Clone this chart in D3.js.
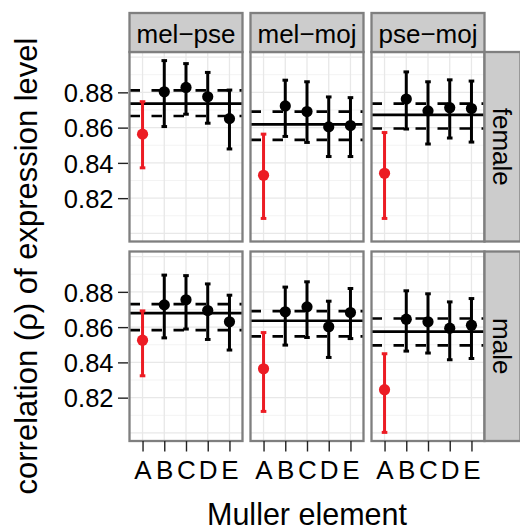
<!DOCTYPE html>
<meta charset="utf-8">
<style>
body { margin: 0; background: #fff; }
text { font-family: "Liberation Sans", Arial, sans-serif; fill: #000; }
.grid-major { stroke: #e8e8e8; stroke-width: 1.3px; }
.grid-minor { stroke: #f3f3f3; stroke-width: 1px; }
.frame { fill: none; stroke: #7f7f7f; stroke-width: 2.3px; }
.strip { fill: #cccccc; stroke: #7f7f7f; stroke-width: 2.3px; }
</style>
<body>
<svg width="520" height="532"></svg>
<script src="https://d3js.org/d3.v7.min.js"></script>
<script>

// facets
var pairs = ["mel\u2212pse", "mel\u2212moj", "pse\u2212moj"];
var sexes = ["female", "male"];
var elements = ["A", "B", "C", "D", "E"];
var yTicks = [0.82, 0.84, 0.86, 0.88];

// per-element correlation and 95% interval, one row per species pair
var femaleEst = [[0.8563, 0.8803, 0.8828, 0.8775, 0.8651],
                 [0.8330, 0.8723, 0.8691, 0.8604, 0.8612],
                 [0.8341, 0.8762, 0.8695, 0.8713, 0.8708]];
var femaleLo  = [[0.8372, 0.8606, 0.8676, 0.8625, 0.8479],
                 [0.8085, 0.8550, 0.8516, 0.8436, 0.8436],
                 [0.8085, 0.8592, 0.8507, 0.8541, 0.8518]];
var femaleHi  = [[0.8747, 0.8980, 0.8963, 0.8913, 0.8813],
                 [0.8563, 0.8869, 0.8860, 0.8774, 0.8770],
                 [0.8572, 0.8916, 0.8860, 0.8871, 0.8864]];
var maleEst   = [[0.8526, 0.8726, 0.8755, 0.8694, 0.8630],
                 [0.8364, 0.8687, 0.8715, 0.8602, 0.8683],
                 [0.8245, 0.8645, 0.8630, 0.8594, 0.8611]];
var maleLo    = [[0.8324, 0.8539, 0.8589, 0.8530, 0.8470],
                 [0.8122, 0.8498, 0.8541, 0.8428, 0.8535],
                 [0.8003, 0.8464, 0.8453, 0.8415, 0.8422]];
var maleHi    = [[0.8692, 0.8895, 0.8892, 0.8845, 0.8781],
                 [0.8569, 0.8827, 0.8857, 0.8747, 0.8819],
                 [0.8449, 0.8806, 0.8789, 0.8743, 0.8762]];

// genome-wide value (solid) and its interval (dashed)
var femaleMean = [0.8736, 0.8618, 0.8672];
var femaleMeanLo = [0.8666, 0.8531, 0.8595];
var femaleMeanHi = [0.8811, 0.8691, 0.8736];
var maleMean = [0.8679, 0.8636, 0.8575];
var maleMeanLo = [0.8583, 0.8547, 0.8496];
var maleMeanHi = [0.8730, 0.8691, 0.8649];

var red = "#ec1c24";

var est = [femaleEst, maleEst], lo = [femaleLo, maleLo], hi = [femaleHi, maleHi];
var gMean = [femaleMean, maleMean], gLo = [femaleMeanLo, maleMeanLo], gHi = [femaleMeanHi, maleMeanHi];

var svg = d3.select("svg");

// layout
var panelLeft = 129.5, panelW = 113, gapX = 8,
    panelTop = 52, panelH = 189.5, gapY = 10,
    stripH = 39, stripW = 36;

var x = d3.scalePoint().domain(elements).range([0, panelW]).padding(0.6);

var all = d3.merge([d3.merge(femaleLo), d3.merge(femaleHi), d3.merge(maleLo), d3.merge(maleHi)]);
var ext = d3.extent(all), pad = (ext[1] - ext[0]) * 0.05;
var y = d3.scaleLinear().domain([ext[0] - pad, ext[1] + pad]).range([panelH, 0]);

var majors = d3.range(0.80, 0.9001, 0.02).filter(function(v) { return v >= y.domain()[0] && v <= y.domain()[1]; });
var minors = d3.range(0.81, 0.9001, 0.02);

sexes.forEach(function(sex, r) {
  pairs.forEach(function(pair, c) {
    var g = svg.append("g")
        .attr("transform", "translate(" + (panelLeft + c * (panelW + gapX)) + "," + (panelTop + r * (panelH + gapY)) + ")");

    g.selectAll(".grid-minor").data(minors).enter().append("line")
        .attr("class", "grid-minor")
        .attr("x1", 0).attr("x2", panelW)
        .attr("y1", function(d) { return y(d); }).attr("y2", function(d) { return y(d); });

    g.selectAll(".grid-major.h").data(majors).enter().append("line")
        .attr("class", "grid-major h")
        .attr("x1", 0).attr("x2", panelW)
        .attr("y1", function(d) { return y(d); }).attr("y2", function(d) { return y(d); });

    g.selectAll(".grid-major.v").data(elements).enter().append("line")
        .attr("class", "grid-major v")
        .attr("y1", 0).attr("y2", panelH)
        .attr("x1", function(d) { return x(d); }).attr("x2", function(d) { return x(d); });

    // genome-wide lines
    g.append("line")
        .attr("x1", 0).attr("x2", panelW)
        .attr("y1", y(gMean[r][c])).attr("y2", y(gMean[r][c]))
        .attr("stroke", "#000").attr("stroke-width", 2.7);

    g.selectAll(".ci").data([gLo[r][c], gHi[r][c]]).enter().append("line")
        .attr("class", "ci")
        .attr("x1", 0).attr("x2", panelW)
        .attr("y1", function(d) { return y(d); }).attr("y2", function(d) { return y(d); })
        .attr("stroke", "#000").attr("stroke-width", 2.7)
        .attr("stroke-dasharray", "10.5,11.5");

    var rows = elements.map(function(e, i) {
      return { el: e, est: est[r][c][i], lo: lo[r][c][i], hi: hi[r][c][i] };
    });
    var col = function(d) { return d.el === "A" ? red : "#000"; };
    var cap = 2.8;

    var bars = g.selectAll(".bar").data(rows).enter().append("g").attr("class", "bar");
    bars.append("line")
        .attr("x1", function(d) { return x(d.el); }).attr("x2", function(d) { return x(d.el); })
        .attr("y1", function(d) { return y(d.lo); }).attr("y2", function(d) { return y(d.hi); })
        .attr("stroke", col).attr("stroke-width", 3);
    bars.selectAll(".cap").data(function(d) { return [[d, d.lo], [d, d.hi]]; }).enter().append("line")
        .attr("x1", function(p) { return x(p[0].el) - cap; }).attr("x2", function(p) { return x(p[0].el) + cap; })
        .attr("y1", function(p) { return y(p[1]); }).attr("y2", function(p) { return y(p[1]); })
        .attr("stroke", function(p) { return col(p[0]); }).attr("stroke-width", 3);
    bars.append("circle")
        .attr("cx", function(d) { return x(d.el); })
        .attr("cy", function(d) { return y(d.est); })
        .attr("r", 5.6)
        .attr("fill", col);

    g.append("rect").attr("class", "frame")
        .attr("x", 0).attr("y", 0).attr("width", panelW).attr("height", panelH);

    // column strip on top
    if (r === 0) {
      g.append("rect").attr("class", "strip")
          .attr("x", 0).attr("y", -stripH).attr("width", panelW).attr("height", stripH);
      g.append("text")
          .attr("x", panelW / 2).attr("y", -9.5)
          .attr("text-anchor", "middle")
          .style("font-size", "26px")
          .text(pair);
    }

    // row strip on the right
    if (c === pairs.length - 1) {
      g.append("rect").attr("class", "strip")
          .attr("x", panelW).attr("y", 0).attr("width", stripW).attr("height", panelH);
      g.append("text")
          .attr("transform", "translate(" + (panelW + 8.5) + "," + (panelH / 2) + ") rotate(90)")
          .attr("text-anchor", "middle")
          .style("font-size", "26px")
          .text(sex);
    }

    // y axis on first column
    if (c === 0) {
      var ya = g.append("g")
          .call(d3.axisLeft(y).tickValues(yTicks).tickSize(10).tickPadding(6).tickFormat(d3.format(".2f")));
      ya.select(".domain").remove();
      ya.selectAll(".tick line").attr("stroke", "#222").attr("stroke-width", 1.4).attr("transform", "translate(-1.5,0)");
      ya.selectAll("text").style("font-size", "25.5px").style("font-family", "Liberation Sans, Arial, sans-serif").attr("fill", "#000")
          .attr("dy", "0.36em");
    }

    // x axis on bottom row
    if (r === sexes.length - 1) {
      var xa = g.append("g").attr("transform", "translate(0," + panelH + ")")
          .call(d3.axisBottom(x).tickSize(10.5).tickPadding(9));
      xa.select(".domain").remove();
      xa.selectAll(".tick line").attr("stroke", "#222").attr("stroke-width", 1.4);
      xa.selectAll("text").style("font-size", "26px").style("font-family", "Liberation Sans, Arial, sans-serif")
          .attr("fill", function(d) { return d === "A" ? red : "#000"; });
    }
  });
});

// axis titles
var panelsRight = panelLeft + 3 * panelW + 2 * gapX;
svg.append("text")
    .attr("x", (panelLeft + panelsRight) / 2).attr("y", 525)
    .attr("text-anchor", "middle")
    .style("font-size", "30.5px")
    .text("Muller element");

svg.append("text")
    .attr("transform", "translate(37,266) rotate(-90)")
    .attr("text-anchor", "middle")
    .style("font-size", "31px")
    .text("correlation (\u03C1) of expression level");

</script>
</body>
